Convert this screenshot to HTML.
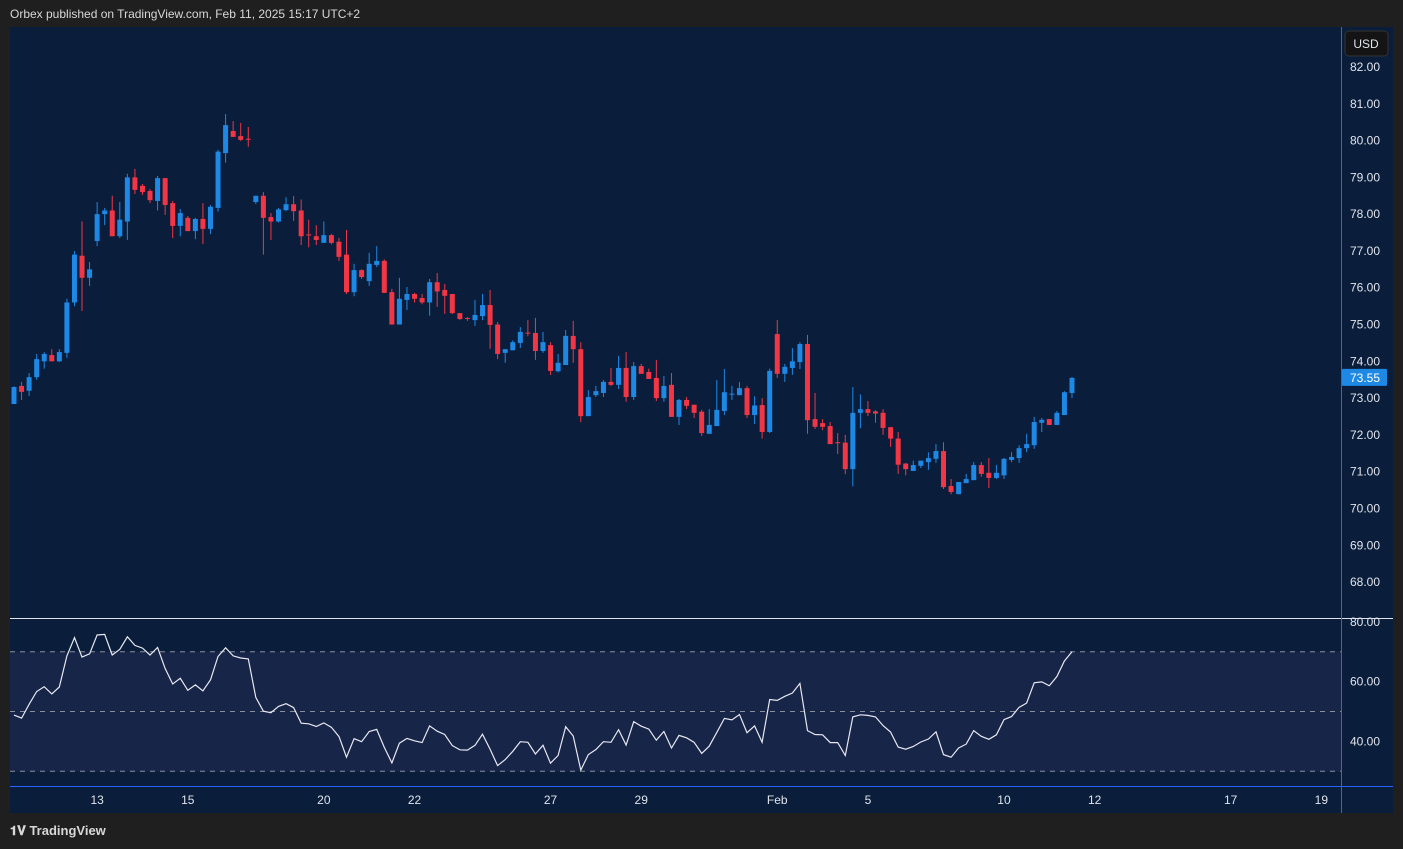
<!DOCTYPE html>
<html><head><meta charset="utf-8"><style>
html,body{margin:0;padding:0;background:#1f1f1f;width:1403px;height:849px;overflow:hidden;font-family:"Liberation Sans",sans-serif}
#hdr{position:absolute;left:10px;top:7px;font-size:12px;color:#d8d8d8}
#logo{position:absolute;left:10px;top:823px;font-size:13px;color:#d8d8d8;font-weight:bold}
svg{position:absolute;left:0;top:0}
</style></head><body>
<div id="hdr">Orbex published on TradingView.com, Feb 11, 2025 15:17 UTC+2</div>
<div id="logo">𝟏𝐕 TradingView</div>
<svg id="c" width="1403" height="849"></svg>
<script>
const opens=[72.84,73.33,73.2,73.57,74.0,74.17,74.0,74.23,75.6,76.87,76.27,77.27,78.0,78.1,77.4,77.8,79.0,78.77,78.63,78.36,78.98,78.3,77.68,77.9,77.54,77.87,77.6,78.17,79.66,80.26,80.12,80.05,78.33,78.5,77.92,77.8,78.11,78.27,78.1,77.45,77.4,77.22,77.43,77.25,76.9,75.88,76.48,76.18,76.62,76.73,75.88,75.0,75.67,75.83,75.72,75.6,76.15,75.94,75.83,75.31,75.18,75.12,75.23,75.53,75.0,74.23,74.3,74.5,74.78,74.77,74.28,74.44,73.73,73.9,74.69,74.33,72.51,73.08,73.14,73.44,73.36,73.82,73.03,73.87,73.71,73.55,73.0,73.36,72.49,72.95,72.82,72.63,72.03,72.24,72.65,73.1,73.08,73.27,72.54,72.81,72.08,74.74,73.66,73.82,73.98,74.47,72.43,72.32,72.24,71.8,71.79,71.07,72.6,72.7,72.64,72.6,72.21,71.9,71.22,71.02,71.16,71.26,71.35,71.56,70.61,70.39,70.69,70.77,71.18,70.97,70.83,70.9,71.32,71.37,71.64,71.72,72.33,72.43,72.27,72.54,73.14];
const highs=[73.32,73.44,73.68,74.2,74.25,74.33,74.33,75.7,77.0,77.8,76.7,78.33,78.17,78.5,78.33,79.1,79.23,78.82,78.68,79.04,78.98,78.36,78.14,77.95,77.9,78.3,78.25,79.75,80.72,80.53,80.48,80.37,78.5,78.6,78.03,78.17,78.46,78.49,78.4,77.85,77.7,77.8,77.46,77.35,77.57,76.65,76.5,76.95,77.13,76.77,75.97,76.27,76.02,75.86,75.83,76.24,76.4,76.1,75.83,75.31,75.2,75.67,75.83,75.94,75.07,74.33,74.57,74.93,75.12,75.18,74.8,74.52,74.2,74.85,75.1,74.52,73.22,73.33,73.49,73.82,74.15,74.25,73.98,73.93,73.8,74.04,73.6,73.68,72.98,73.03,72.82,72.68,72.7,73.49,73.79,73.33,73.44,73.33,73.05,73.0,73.8,75.12,73.93,74.36,74.52,74.72,73.14,72.43,72.35,72.05,72.0,73.3,73.1,72.92,72.67,72.7,72.21,72.08,71.24,71.3,71.3,71.53,71.75,71.8,70.8,70.72,70.94,71.26,71.26,71.37,71.18,71.37,71.53,71.72,72.03,72.49,72.46,72.43,72.65,73.19,73.57];
const lows=[72.84,72.95,73.06,73.5,73.8,74.0,73.98,74.1,75.5,75.37,76.05,77.13,77.7,77.4,77.35,77.3,78.55,78.52,78.3,78.1,77.98,77.35,77.4,77.54,77.32,77.19,77.46,78.07,79.4,80.1,79.99,79.83,78.28,76.9,77.3,77.77,78.08,77.82,77.16,77.1,77.16,77.22,77.18,76.73,75.83,75.77,76.24,76.05,76.56,75.86,75.0,75.0,75.4,75.6,75.55,75.24,75.48,75.29,75.29,75.12,75.1,74.96,75.12,74.34,74.06,73.96,74.3,74.36,74.68,74.04,74.23,73.63,73.7,73.9,73.96,72.35,72.51,73.03,73.03,73.33,73.25,72.9,72.95,73.66,73.52,72.92,72.9,72.49,72.27,72.7,72.46,71.97,72.03,72.24,72.54,72.95,73.08,72.46,72.3,71.9,72.05,73.55,73.44,73.63,73.79,72.03,72.16,72.13,71.75,71.48,70.93,70.6,72.18,72.51,72.33,72.0,71.67,70.94,70.9,71.02,71.1,71.05,71.24,70.53,70.39,70.39,70.69,70.77,70.86,70.56,70.8,70.8,71.26,71.24,71.53,71.62,72.08,72.27,72.27,72.54,73.0];
const closes=[73.3,73.17,73.57,74.06,74.2,74.0,74.25,75.6,76.9,76.27,76.5,78.0,78.1,77.4,77.85,79.0,78.66,78.6,78.38,78.98,78.25,77.68,78.03,77.54,77.87,77.6,78.2,79.7,80.42,80.1,80.02,80.03,78.5,77.9,77.8,78.13,78.27,78.08,77.4,77.43,77.3,77.43,77.22,76.84,75.88,76.48,76.29,76.65,76.73,75.86,75.0,75.7,75.83,75.7,75.6,76.15,75.9,75.78,75.31,75.15,75.16,75.26,75.53,74.99,74.2,74.33,74.52,74.8,74.77,74.28,74.52,73.74,73.96,74.69,74.33,72.51,73.03,73.19,73.44,73.36,73.82,73.03,73.87,73.66,73.52,73.0,73.33,72.49,72.95,72.79,72.6,72.05,72.27,72.68,73.16,73.12,73.27,72.54,72.8,72.08,73.74,73.66,73.85,74.0,74.47,72.4,72.22,72.22,71.75,71.79,71.07,72.6,72.7,72.6,72.58,72.19,71.9,71.19,71.07,71.18,71.3,71.37,71.56,70.58,70.45,70.72,70.8,71.18,70.94,70.83,70.97,71.35,71.4,71.64,71.75,72.35,72.41,72.27,72.6,73.16,73.55];
const rsi=[48.8,47.8,52.4,56.7,58.3,55.9,58.2,68.6,74.7,68.2,69.3,75.6,75.8,68.9,70.8,75.0,72.1,71.2,68.9,71.4,64.4,59.2,61.1,57.1,58.9,56.9,60.6,68.4,71.3,68.6,67.9,67.6,54.7,50.1,49.6,51.7,52.6,51.3,46.1,45.9,45.0,46.2,44.7,41.6,34.7,40.9,39.9,43.3,44.0,38.0,32.8,39.4,41.0,40.2,39.6,45.2,43.4,42.3,38.6,37.2,37.1,38.7,42.4,37.4,31.9,33.9,36.7,39.9,39.7,35.8,38.7,32.7,35.3,44.9,41.8,30.4,35.6,37.3,39.9,39.7,43.9,38.8,46.6,45.1,44.1,40.4,43.3,37.8,42.0,41.2,39.7,36.0,38.4,43.0,47.7,47.2,49.0,42.9,45.2,39.7,54.0,53.7,55.1,56.2,59.4,43.6,42.3,42.2,39.6,39.6,35.3,48.2,48.9,48.7,48.2,45.3,43.1,38.1,37.4,38.3,39.8,40.8,43.2,35.6,34.7,37.8,39.1,43.6,41.7,40.7,42.2,47.3,48.3,51.4,52.8,59.6,59.9,58.6,61.7,66.9,70.0];
const priceTicks=[82,81,80,79,78,77,76,75,74,73,72,71,70,69,68];
const rsiTicks=[80,60,40];
const timeLabels=["13","15","20","22","27","29","Feb","5","10","12","17","19"];
const timeLabelIdx=[11,23,41,53,71,83,101,113,131,143,161,173];

const NS="http://www.w3.org/2000/svg";
const svg=document.getElementById('c');
function mk(t,a,p){const e=document.createElementNS(NS,t);for(const k in a)e.setAttribute(k,a[k]);(p||svg).appendChild(e);return e;}
const xAt=i=>14+7.557*i;
const yP=p=>67+(82-p)*36.79;
const yR=v=>711.5-(v-50)*2.99;

const bg=mk('rect',{x:10,y:27,width:1383,height:786,fill:'#0a1e3b'});


const band=mk('rect',{x:10,y:yR(70),width:1331,height:yR(30)-yR(70),fill:'#172549'});


[70,50,30].forEach(v=>{const l=mk('line',{x1:10,x2:1341,y1:yR(v),y2:yR(v),stroke:'#8a8f9c','stroke-dasharray':'5,5','stroke-width':1});

});
const sep=mk('line',{x1:10,x2:1393,y1:618.5,y2:618.5,stroke:'#e0e3eb','stroke-width':1});


const vax=mk('line',{x1:1341.5,x2:1341.5,y1:27,y2:813,stroke:'#2962ff','stroke-width':1});


const hax=mk('line',{x1:10,x2:1393,y1:786.5,y2:786.5,stroke:'#2962ff','stroke-width':1});



opens.forEach((o,i)=>{
  const c=closes[i],up=c>=o,col=up?'#1e88e5':'#f23645',x=xAt(i);
  const g=mk('g',{});
  
  
  mk('line',{x1:x,x2:x,y1:yP(highs[i]),y2:yP(lows[i]),stroke:col,'stroke-width':1},g);
  const t=yP(Math.max(o,c)),b=yP(Math.min(o,c));
  mk('rect',{x:x-2.5,y:t,width:5,height:Math.max(1,b-t),fill:col},g);
});
const pts=rsi.map((v,i)=>xAt(i).toFixed(1)+','+yR(v).toFixed(1)).join(' ');
const rl=mk('polyline',{points:pts,fill:'none',stroke:'#e8e8f0','stroke-width':1.2});



priceTicks.forEach(p=>{const t=mk('text',{x:1350,y:yP(p)+4,fill:'#e0e3eb','font-size':12});t.textContent=p.toFixed(2);

});
rsiTicks.forEach(v=>{const t=mk('text',{x:1350,y:yR(v)+4,fill:'#e0e3eb','font-size':12});t.textContent=v.toFixed(2);

});
timeLabels.forEach((s,k)=>{const t=mk('text',{x:xAt(timeLabelIdx[k]),y:804,fill:'#e0e3eb','font-size':12,'text-anchor':'middle'});t.textContent=s;

});
const last=closes[closes.length-1];
const lb=mk('rect',{x:1342,y:yP(last)-9,width:45,height:17,fill:'#1e88e5',rx:1});


const lt=mk('text',{x:1350,y:yP(last)+4,fill:'#fff','font-size':12});lt.textContent=last.toFixed(2);


const ub=mk('rect',{x:1345,y:31,width:43,height:25,fill:'#141414',stroke:'#333',rx:4});


const ut=mk('text',{x:1366,y:48,fill:'#e0e3eb','font-size':12,'text-anchor':'middle'});ut.textContent='USD';


</script>
</body></html>
